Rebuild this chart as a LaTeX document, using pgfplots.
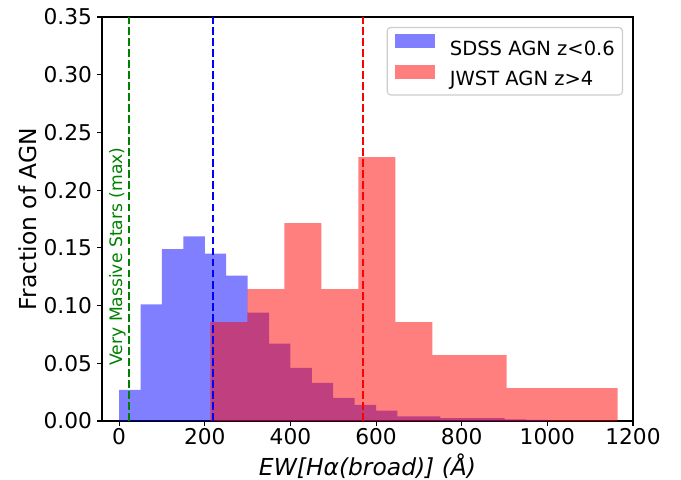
\documentclass[border=0pt]{standalone}
\usepackage{fontspec}
\setmainfont{DejaVu Sans}
\usepackage{pgfplots}
\pgfplotsset{compat=1.18}
\usetikzlibrary{calc}
\definecolor{mgreen}{RGB}{0,128,0}
\definecolor{lgray}{RGB}{204,204,204}

\pgfplotsset{
  histleg/.style={legend image code/.code={\fill[##1, sharp corners] (0bp,0.3bp) rectangle (28.8bp,10.3bp);}},
}

\begin{document}
\begin{tikzpicture}
\begin{axis}[
  name=ax,
  scale only axis, width=382.3bp, height=290.9bp,
  xmin=-40, xmax=1200, ymin=0, ymax=0.35,
  xtick={0,200,400,600,800,1000,1200},
  ytick={0,0.05,0.1,0.15,0.2,0.25,0.3,0.35},
  tick pos=left, tick align=outside, major tick length=3.5bp,
  every tick/.style={black, line width=0.8bp},
  axis line style={line width=0.8bp},
  ticklabel style={font=\fontsize{15.7}{18}\selectfont},
  xticklabel style={inner ysep=1.5bp},
  yticklabel style={inner xsep=3.5bp},
  /pgf/number format/assume math mode=true,
  /pgf/number format/1000 sep={},
  yticklabel style={/pgf/number format/.cd, fixed, fixed zerofill, precision=2},
  legend style={at={(1,1)}, anchor=north east, xshift=-7.2bp, yshift=-7.2bp,
    draw=lgray, line width=0.8bp, rounded corners=2.5bp, fill=white,
    fill opacity=0.8, text opacity=1, font=\fontsize{14.1}{17}\selectfont,
    inner xsep=5.5bp, inner ysep=5bp, row sep=6bp, nodes={inner sep=0pt},
    /tikz/every odd column/.append style={column sep=10.8bp}},
  legend cell align=left,
]
% SDSS AGN, z<0.6 (bins of 50)
\addplot[ybar interval, fill=blue, fill opacity=0.5, draw=none, histleg] coordinates {
  (0,0.027) (50,0.101) (100,0.149) (150,0.160) (200,0.145) (250,0.126)
  (300,0.094) (350,0.067) (400,0.046) (450,0.033) (500,0.020) (550,0.014)
  (600,0.009) (650,0.004) (700,0.004) (750,0.0025) (800,0.0025) (850,0.0025)
  (900,0.0015) (950,0.001) (1000,0)};
\addlegendentry{SDSS AGN z<0.6}
% JWST AGN, z>4 (35 objects)
\addplot[ybar interval, fill=red, fill opacity=0.5, draw=none, histleg] coordinates {
  (213,0.0857) (299.45,0.1143) (385.9,0.1714) (472.35,0.1143) (558.8,0.2286)
  (645.25,0.0857) (731.7,0.0571) (818.15,0.0571) (904.6,0.0286) (991.05,0.0286)
  (1077.5,0.0286) (1163.95,0)};
\addlegendentry{JWST AGN z>4}

\addplot[forget plot, mgreen, line width=1.5bp, dash pattern=on 5.55bp off 2.4bp] coordinates {(22,0) (22,0.35)};
\addplot[forget plot, blue, line width=1.5bp, dash pattern=on 5.55bp off 2.4bp] coordinates {(220,0) (220,0.35)};
\addplot[forget plot, red, line width=1.5bp, dash pattern=on 5.55bp off 2.4bp] coordinates {(570,0) (570,0.35)};

\node[rotate=90, text=mgreen, font=\fontsize{12.4}{14}\selectfont] at (axis cs:-4,0.1425) {Very Massive Stars (max)};
\end{axis}

\node[font=\fontsize{16.9}{20}\selectfont\itshape] at ($(ax.south)+(0,-32.4bp)$) {EW[Hα(broad)] (Å)};
\node[rotate=90, font=\fontsize{16.9}{20}\selectfont] at ($(ax.west)+(-53.6bp,0)$) {Fraction of AGN};

\pgfresetboundingbox
\path[use as bounding box] ($(ax.south west)+(-73.44bp,-41.76bp)$) rectangle ($(ax.north east)+(34.56bp,12.24bp)$);
\end{tikzpicture}
\end{document}
